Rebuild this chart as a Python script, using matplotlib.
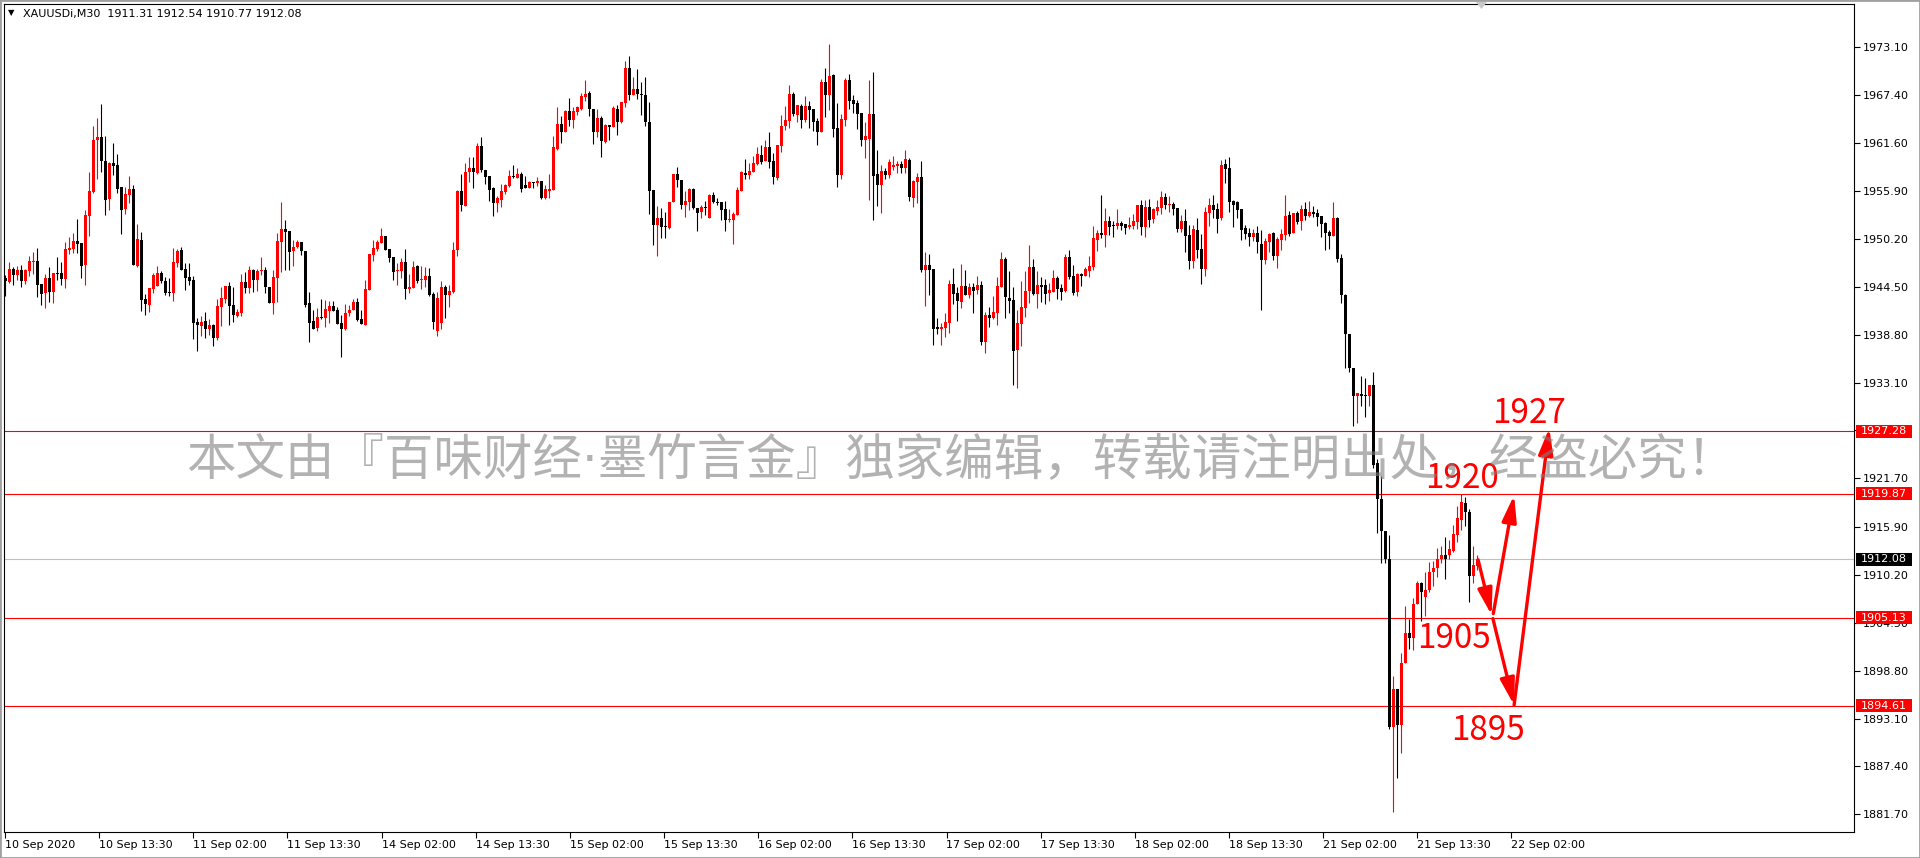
import numpy as np
import matplotlib
matplotlib.use("Agg")
import matplotlib.pyplot as plt
from matplotlib.patches import Rectangle, FancyArrowPatch, Polygon

# ---------------- data (XAUUSDi, M30) ----------------
opens = [
1945.60,1945.08,1946.67,1945.96,1946.51,1945.20,1946.39,1947.46,1947.58,1944.84,
1943.73,1945.56,1943.93,1946.15,1946.15,1945.44,1948.89,1949.01,1949.97,1949.73,
1947.15,1952.98,1955.80,1961.99,1962.35,1959.49,1955.01,1959.26,1959.02,1956.40,
1953.82,1955.48,1956.16,1947.03,1950.08,1943.06,1942.38,1944.25,1944.65,1946.15,
1945.20,1943.89,1943.81,1947.39,1948.89,1946.63,1945.68,1945.32,1940.28,1939.88,
1940.44,1939.52,1939.96,1938.45,1942.15,1943.10,1944.57,1942.34,1941.07,1941.43,
1945.08,1944.41,1946.51,1945.32,1946.39,1946.51,1944.45,1942.62,1945.60,1949.89,
1951.39,1951.20,1948.74,1949.21,1949.85,1948.74,1942.58,1940.44,1939.60,1940.91,
1940.80,1941.67,1942.22,1941.75,1940.20,1939.52,1941.35,1941.75,1942.74,1940.68,
1940.00,1944.17,1948.34,1949.05,1949.73,1950.56,1949.01,1948.06,
1946.35,1946.43,1947.46,1944.29,1944.41,1946.99,1945.36,1945.32,1945.80,1943.65,
1939.30,1940.20,1944.49,1943.53,1943.89,1948.89,1955.92,1954.13,1958.18,1958.66,
1958.06,1961.28,1958.42,1957.70,1956.27,1954.49,1954.85,1955.80,1956.51,1957.70,
1957.47,1957.94,1956.63,1956.27,1956.99,1956.87,1957.11,1955.09,1955.92,1956.04,
1960.92,1963.90,1962.98,1965.44,1964.37,1965.33,1965.68,1967.11,1967.59,1965.68,
1962.94,1964.61,1961.75,1963.78,1963.58,1965.68,1964.13,1966.40,1970.57,1967.35,
1968.06,1967.47,1967.35,1964.13,1956.04,1951.87,1952.70,1951.75,1951.47,1954.61,
1957.94,1957.23,1954.25,1954.61,1956.15,1953.89,1953.42,
1954.01,1952.74,1955.48,1954.61,1954.61,1953.77,1952.46,1952.46,1953.06,1955.91,
1958.02,1957.82,1958.17,1959.13,1960.20,1959.49,1961.15,1959.49,1957.46,1961.27,
1963.66,1964.25,1967.47,1964.97,1966.04,1964.37,1966.04,1965.68,1964.25,1962.94,
1968.90,1967.35,1969.73,1963.42,1957.82,1964.37,1969.13,1966.75,1966.40,1965.21,
1961.99,1962.11,1965.09,1957.94,1956.63,1958.30,1957.82,1958.77,1958.89,1959.13,
1958.66,1959.61,1955.08,1956.99,1957.58,1946.51,1947.10,1946.63,1939.72,1939.48,
1939.60,1940.19,1944.84,1943.77,1942.70,1944.60,1943.53,1944.48,1944.13,1944.72,
1937.93,1941.15,1940.79,1941.39,1944.48,
1947.82,1943.17,1942.94,1937.02,1940.12,1942.02,1944.01,1946.86,1943.65,1944.72,
1944.72,1943.77,1943.89,1945.55,1944.36,1944.01,1948.06,1945.79,1943.89,1946.03,
1945.79,1946.39,1946.86,1950.08,1950.91,1950.68,1952.34,1951.87,1951.75,1952.10,
1951.99,1951.63,1951.75,1952.22,1954.25,1951.63,1954.01,1952.58,1953.53,1953.89,
1955.20,1954.25,1954.37,1953.89,1951.39,1952.34,1950.68,1947.58,1951.27,1949.01,
1946.63,1953.30,1954.25,1953.77,1952.70,1959.13,1958.66,1954.72,1954.61,1953.77,
1951.51,1950.91,1950.44,1950.91,1949.60,1947.70,1949.84,1950.91,1948.17,1950.08,
1950.68,1953.06,1950.91,1953.30,1952.34,1953.77,1952.94,1953.41,1953.30,1952.94,
1952.10,1951.03,1950.56,
1952.70,1947.92,1943.50,1938.88,1934.80,1931.50,1931.69,1931.54,1931.50,1932.81,
1923.57,1919.25,1915.46,1912.05,1892.13,1896.65,1892.37,1899.76,1903.31,1902.72,
1906.71,1909.24,1907.58,1908.41,1910.50,1911.08,1912.05,1912.63,1912.63,1913.04,
1915.00,1916.77,1918.75,1917.70,1910.11,1911.31]

highs = [
1945.92,1947.46,1946.83,1946.99,1947.11,1946.67,1948.18,1948.66,1949.13,1944.84,
1946.04,1946.87,1946.15,1948.06,1947.50,1949.85,1950.40,1950.88,1952.59,1949.73,
1953.66,1958.18,1963.66,1964.61,1966.28,1962.47,1959.41,1961.64,1960.33,1956.40,
1956.40,1957.71,1956.64,1951.99,1951.04,1943.61,1944.37,1946.19,1946.99,1946.39,
1945.72,1945.56,1949.17,1948.97,1949.29,1947.39,1947.35,1945.84,1940.80,1941.07,
1941.51,1940.68,1940.04,1943.10,1944.53,1944.65,1945.04,1944.53,1941.91,1946.08,
1946.27,1947.03,1946.67,1946.59,1948.06,1946.87,1944.45,1946.51,1950.92,1954.61,
1952.47,1951.20,1950.08,1950.08,1949.85,1948.74,1943.89,1941.75,1941.99,1943.06,
1942.94,1942.82,1942.82,1942.11,1941.15,1942.46,1942.34,1943.06,1943.18,1941.75,
1945.32,1948.42,1950.08,1950.08,1951.51,1950.56,1949.01,1948.06,
1947.30,1947.94,1949.01,1946.03,1947.58,1947.11,1946.99,1946.83,1946.71,1943.90,
1943.89,1945.20,1944.72,1944.72,1949.84,1956.08,1957.94,1959.25,1959.97,1959.97,
1961.63,1962.35,1958.42,1957.70,1956.39,1955.32,1956.75,1956.75,1958.42,1959.01,
1958.66,1958.18,1957.70,1957.11,1956.99,1957.58,1957.11,1956.63,1957.94,1962.47,
1965.92,1964.85,1965.56,1966.99,1965.92,1966.04,1967.59,1969.14,1967.83,1965.68,
1965.68,1964.85,1963.90,1963.78,1966.04,1966.16,1966.52,1971.40,1971.99,1969.49,
1970.45,1968.90,1969.49,1966.52,1956.04,1954.13,1953.89,1953.38,1954.61,1957.94,
1958.78,1957.23,1955.92,1956.27,1956.27,1953.89,1954.25,
1954.72,1955.60,1955.80,1955.08,1954.61,1954.72,1953.77,1953.42,1956.39,1958.30,
1959.73,1959.25,1960.08,1961.15,1961.39,1961.99,1962.94,1960.44,1961.39,1964.97,
1966.04,1968.54,1967.71,1966.16,1966.28,1967.23,1966.63,1965.68,1964.61,1969.25,
1970.56,1973.42,1969.85,1966.40,1965.09,1969.37,1969.85,1967.35,1966.75,1965.21,
1964.13,1969.13,1970.09,1960.80,1959.01,1958.66,1959.73,1960.08,1959.49,1959.49,
1960.80,1959.85,1957.22,1958.06,1959.49,1948.65,1948.41,1946.63,1940.79,1940.19,
1941.39,1945.32,1946.75,1944.48,1947.22,1946.51,1944.96,1944.96,1945.79,1945.20,
1941.51,1942.10,1943.41,1945.67,1948.65,
1948.06,1946.39,1944.48,1941.74,1945.20,1946.39,1949.49,1947.82,1946.39,1945.67,
1945.44,1944.96,1946.51,1945.79,1944.84,1948.41,1948.89,1947.10,1946.15,1946.15,
1946.86,1948.17,1951.75,1951.27,1955.44,1953.89,1952.94,1952.34,1953.77,1952.34,
1951.99,1952.82,1953.18,1954.25,1954.84,1954.84,1954.96,1953.89,1954.84,1955.91,
1955.67,1955.32,1954.60,1953.89,1953.06,1953.77,1951.87,1951.87,1952.70,1950.80,
1954.01,1955.08,1955.44,1954.49,1959.61,1959.73,1959.97,1954.84,1954.72,1953.77,
1951.87,1951.51,1951.39,1951.75,1951.27,1950.32,1950.91,1951.03,1950.44,1951.39,
1955.44,1953.53,1953.30,1953.53,1954.25,1954.61,1954.72,1954.13,1953.77,1952.94,
1952.22,1951.27,1954.61,
1952.82,1948.41,1943.65,1938.88,1934.80,1931.84,1933.93,1933.59,1932.81,1934.36,
1923.96,1922.02,1915.46,1914.97,1898.11,1896.65,1900.88,1906.47,1904.91,1907.44,
1909.53,1909.38,1910.60,1911.71,1911.91,1913.38,1913.62,1914.73,1914.34,1916.19,
1918.37,1919.83,1919.50,1918.00,1913.66,1912.54]

lows = [
1943.41,1944.92,1944.77,1945.32,1944.53,1944.84,1945.84,1946.04,1943.34,1942.34,
1942.03,1942.70,1942.62,1945.32,1944.77,1944.37,1948.42,1948.58,1948.54,1945.60,
1944.77,1950.60,1955.64,1957.39,1958.22,1953.10,1953.70,1957.87,1955.72,1950.84,
1953.22,1954.53,1947.15,1946.91,1941.67,1941.19,1941.55,1943.73,1944.65,1944.96,
1943.53,1943.41,1942.86,1946.91,1946.55,1944.17,1944.73,1938.33,1936.90,1938.61,
1938.45,1938.77,1937.50,1938.14,1939.88,1942.62,1940.00,1940.36,1940.95,1941.07,
1943.81,1943.81,1943.93,1943.97,1945.92,1943.81,1942.62,1941.31,1942.70,1946.31,
1946.55,1946.55,1946.99,1949.17,1948.34,1942.07,1937.98,1939.52,1939.29,1940.72,
1939.68,1940.16,1941.67,1940.04,1936.19,1939.41,1941.07,1941.75,1940.48,1940.04,
1940.00,1944.17,1947.62,1948.81,1949.73,1948.93,1947.42,1945.32,
1944.68,1945.56,1943.10,1943.77,1944.41,1945.00,1944.29,1944.53,1943.45,1939.50,
1938.60,1939.50,1940.80,1942.14,1943.77,1948.22,1953.53,1954.13,1956.99,1956.27,
1957.94,1958.18,1956.75,1954.73,1952.94,1953.42,1954.01,1955.56,1956.39,1957.47,
1957.47,1955.80,1956.27,1956.27,1956.27,1956.51,1954.97,1954.97,1955.09,1956.04,
1960.80,1961.63,1962.98,1963.66,1963.42,1964.97,1965.56,1966.64,1964.85,1961.51,
1962.35,1959.97,1961.63,1961.99,1963.54,1962.59,1964.01,1965.92,1966.75,1967.35,
1966.87,1964.97,1963.66,1953.18,1949.49,1948.18,1950.32,1950.32,1951.35,1954.61,
1956.39,1953.77,1952.82,1953.66,1953.77,1951.15,1952.70,
1953.06,1952.74,1954.49,1954.25,1952.46,1951.15,1952.22,1949.64,1953.06,1955.91,
1957.34,1957.34,1958.17,1959.01,1959.13,1959.49,1958.66,1956.75,1957.22,1960.56,
1963.18,1963.42,1964.85,1964.13,1963.42,1964.13,1963.42,1963.06,1961.39,1962.94,
1964.73,1965.56,1962.35,1956.39,1957.34,1963.66,1965.68,1965.21,1963.30,1961.27,
1959.85,1954.84,1952.46,1954.13,1953.30,1957.34,1957.46,1958.42,1958.06,1958.06,
1958.06,1954.72,1954.01,1954.49,1946.27,1942.22,1943.53,1937.58,1938.89,1937.58,
1938.53,1939.01,1942.46,1940.43,1941.98,1943.53,1943.17,1941.39,1943.65,1937.58,
1936.62,1939.72,1940.67,1939.96,1944.48,
1940.83,1941.39,1932.81,1932.50,1937.50,1940.91,1942.58,1943.53,1941.98,1942.70,
1942.46,1942.82,1943.89,1943.05,1942.94,1943.89,1945.44,1943.53,1943.41,1944.60,
1945.79,1945.67,1946.51,1948.77,1950.32,1949.25,1950.68,1950.44,1951.39,1951.27,
1950.80,1951.39,1951.39,1951.39,1950.68,1950.44,1951.63,1952.10,1953.06,1953.18,
1953.77,1953.41,1953.06,1951.03,1951.03,1948.65,1946.63,1946.74,1947.94,1944.84,
1945.79,1951.75,1952.70,1950.91,1952.46,1956.87,1953.41,1951.63,1952.70,1950.08,
1950.20,1949.37,1949.96,1948.53,1941.74,1947.22,1948.65,1947.70,1946.74,1948.89,
1950.08,1950.56,1950.91,1951.99,1951.27,1952.46,1952.82,1952.82,1951.75,1950.44,
1948.89,1949.01,1950.56,
1947.46,1942.53,1934.80,1934.31,1927.95,1928.24,1930.28,1928.97,1930.28,1922.99,
1915.21,1911.57,1911.57,1891.88,1881.92,1886.05,1888.97,1899.66,1901.36,1901.27,
1906.71,1904.77,1905.25,1908.17,1908.90,1910.01,1911.57,1909.76,1912.05,1912.88,
1914.15,1915.60,1916.00,1906.95,1909.28,1910.77]

closes = [
1945.20,1946.63,1945.92,1946.47,1945.20,1946.55,1947.58,1947.58,1944.73,1943.69,
1945.56,1943.93,1946.15,1946.04,1945.44,1949.01,1949.13,1949.97,1949.65,1947.03,
1953.06,1955.92,1961.99,1962.35,1959.53,1954.89,1959.26,1958.94,1956.20,1953.70,
1955.56,1956.16,1947.15,1950.20,1942.98,1942.50,1944.37,1945.92,1946.15,1945.20,
1943.81,1943.81,1947.46,1948.81,1946.55,1945.60,1945.24,1940.24,1940.00,1940.36,
1939.52,1939.96,1938.45,1942.22,1943.18,1944.65,1942.26,1941.11,1941.51,1945.08,
1944.41,1946.51,1945.32,1946.43,1946.51,1944.45,1942.62,1945.68,1949.97,1951.39,
1951.08,1948.66,1949.29,1949.85,1948.74,1942.34,1940.24,1939.52,1940.87,1940.80,
1941.87,1942.22,1941.67,1940.12,1939.52,1941.39,1941.79,1942.74,1940.60,1940.04,
1944.25,1948.42,1949.13,1949.85,1950.56,1948.93,1947.98,1946.31,
1946.51,1947.46,1944.29,1944.49,1946.87,1945.24,1945.48,1945.80,1943.57,1940.30,
1943.14,1944.49,1943.53,1944.01,1948.89,1955.96,1954.25,1958.18,1958.66,1958.18,
1961.28,1958.42,1957.62,1956.04,1954.49,1955.09,1955.92,1956.63,1957.70,1957.58,
1957.94,1956.15,1956.27,1956.99,1956.91,1957.11,1955.09,1956.15,1956.15,1961.16,
1963.90,1962.98,1965.44,1964.37,1965.44,1965.92,1967.23,1967.47,1965.68,1962.98,
1964.61,1961.91,1963.78,1963.58,1965.80,1964.13,1966.52,1970.57,1967.35,1968.06,
1967.47,1967.35,1964.13,1955.92,1951.87,1952.70,1951.63,1951.59,1954.61,1957.94,
1957.23,1954.25,1954.73,1956.15,1953.89,1953.30,1954.01,
1953.93,1955.48,1954.61,1954.49,1953.65,1952.46,1952.58,1953.22,1956.03,1958.17,
1957.86,1958.30,1959.25,1960.32,1959.37,1961.15,1959.37,1957.58,1961.39,1963.66,
1964.37,1967.47,1965.09,1966.16,1964.37,1966.04,1965.56,1964.13,1962.94,1968.90,
1967.35,1969.61,1963.30,1957.82,1964.49,1969.13,1966.63,1966.28,1965.09,1961.99,
1962.46,1965.09,1957.70,1956.63,1958.30,1957.82,1959.37,1959.01,1959.13,1958.66,
1959.73,1955.20,1957.10,1957.58,1946.51,1947.10,1946.51,1939.48,1939.48,1939.72,
1940.31,1944.84,1943.65,1942.82,1944.60,1943.53,1944.48,1944.01,1944.72,1937.93,
1941.15,1940.79,1941.51,1944.60,1947.82,
1943.33,1942.86,1936.90,1940.20,1942.10,1944.01,1946.86,1943.65,1944.72,1944.48,
1943.65,1944.13,1945.55,1944.24,1943.89,1948.06,1945.67,1943.77,1946.03,1945.79,
1946.63,1946.98,1950.32,1950.91,1950.68,1952.34,1951.63,1951.75,1952.10,1951.75,
1951.51,1951.87,1952.34,1954.25,1951.63,1954.01,1952.46,1953.77,1954.01,1955.20,
1954.25,1954.37,1953.77,1951.39,1952.34,1950.56,1947.58,1951.39,1948.89,1946.63,
1953.41,1954.25,1953.65,1952.58,1959.01,1958.54,1954.61,1954.25,1953.65,1951.27,
1950.80,1950.44,1950.91,1949.84,1947.70,1949.96,1950.80,1948.17,1950.20,1950.80,
1952.94,1950.80,1953.30,1952.22,1953.77,1952.94,1953.41,1953.18,1952.82,1951.99,
1950.91,1950.56,1952.70,
1947.82,1943.50,1938.88,1934.80,1931.50,1931.84,1931.50,1931.50,1932.81,1923.23,
1919.25,1915.46,1912.05,1892.13,1896.65,1892.37,1899.66,1903.31,1902.72,1906.71,
1909.24,1908.17,1908.41,1910.60,1911.08,1912.05,1912.63,1912.05,1913.28,1915.07,
1916.92,1918.86,1917.70,1910.11,1911.33,1912.08]

time_labels = ["10 Sep 2020", "10 Sep 13:30", "11 Sep 02:00", "11 Sep 13:30",
               "14 Sep 02:00", "14 Sep 13:30", "15 Sep 02:00", "15 Sep 13:30",
               "16 Sep 02:00", "16 Sep 13:30", "17 Sep 02:00", "17 Sep 13:30",
               "18 Sep 02:00", "18 Sep 13:30", "21 Sep 02:00", "21 Sep 13:30",
               "22 Sep 02:00"]
price_ticks = [1973.10, 1967.40, 1961.60, 1955.90, 1950.20, 1944.50, 1938.80,
               1933.10, 1927.40, 1921.70, 1915.90, 1910.20, 1904.50, 1898.80,
               1893.10, 1887.40, 1881.70]
level_prices = [1927.28, 1919.87, 1905.13, 1894.61]
last_price = 1912.08
header_text = "XAUUSDi,M30  1911.31 1912.54 1910.77 1912.08"
watermark_text = "本文由『百味财经·墨竹言金』独家编辑，转载请注明出处，经盗必究！"
target_texts = ["1927", "1920", "1905", "1895"]
target_bars = [380.9, 364.3, 362.2, 370.6]
target_prices = [1928.3, 1920.55, 1901.5, 1890.54]
arrow_from = [(368.2, 1912.0), (372.0, 1905.6), (371.9, 1905.0), (377.2, 1894.7)]
arrow_to = [(371.6, 1905.4), (377.2, 1919.7), (377.2, 1894.7), (386.0, 1927.7)]

# ---------------- figure ----------------
W, H = 1920, 858
fig = plt.figure(figsize=(W / 100, H / 100), dpi=100, facecolor="white")
ax_left, ax_right, ax_top, ax_bottom = 4, 1854, 4, 832
ax = fig.add_axes([ax_left / W, (H - ax_bottom) / H,
                   (ax_right - ax_left) / W, (ax_bottom - ax_top) / H])
ax.set_facecolor("white")

ymin, ymax = 1879.59, 1978.18
ax.set_ylim(ymin, ymax)
ax.set_xlim(-0.325, 462.175)
px_per_price = (ax_bottom - ax_top) / (ymax - ymin)
px_per_bar = (ax_right - ax_left) / (462.175 + 0.325)

o = np.array(opens); h = np.array(highs); l = np.array(lows); c = np.array(closes)
assert len(o) == len(h) == len(l) == len(c)
x = np.arange(len(o))
colors = np.where(c > o, "#ff0000", "#000000")

# reference lines
ax.axhline(last_price, color="#c0c0c0", lw=0.8, zorder=1)
for p in level_prices:
    ax.axhline(p, color="#ff0000", lw=0.8, zorder=2)

# candles
ax.vlines(x, l, h, colors=colors, lw=0.8, zorder=3)
body_low = np.minimum(o, c)
body_h = np.maximum(np.abs(c - o), 1.0 / px_per_price)
ax.bar(x, body_h, bottom=body_low, width=0.75, color=colors, linewidth=0, zorder=4)

# axes styling
for s in ax.spines.values():
    s.set_color("black")
    s.set_linewidth(0.8)
ax.yaxis.tick_right()
ax.set_yticks(price_ticks)
ax.set_yticklabels([f"{v:.2f}" for v in price_ticks])
ax.tick_params(axis="y", direction="out", length=4, width=0.8, pad=2,
               labelsize=8, colors="black", left=False, right=True)
tick_pos = (np.arange(len(time_labels)) * 94.15 - 0.3) / px_per_bar
ax.set_xticks(tick_pos)
ax.set_xticklabels(time_labels, ha="left")
ax.tick_params(axis="x", direction="out", length=4, width=0.8, pad=2,
               labelsize=8, colors="black")

# price boxes at the right edge
ytrans = ax.get_yaxis_transform()
axw = ax_right - ax_left
box_specs = [(p, "#ff0000") for p in level_prices] + [(last_price, "#000000")]
for p, col in box_specs:
    ax.add_patch(Rectangle((1 + 2 / axw, p - 6.5 / px_per_price), 56 / axw,
                           13 / px_per_price, transform=ytrans, facecolor=col,
                           edgecolor="none", clip_on=False, zorder=10))
    ax.text(1 + 6.5 / axw, p, f"{p:.2f}", transform=ytrans, color="white",
            fontsize=8, va="center", ha="left", clip_on=False, zorder=11)

# red targets and arrows
for t, bx, py in zip(target_texts, target_bars, target_prices):
    ax.text(bx, py, t, color="#ff0000", fontsize=24, family=["Noto Sans CJK SC"],
            ha="center", va="baseline", zorder=12)
for a, b in zip(arrow_from, arrow_to):
    ax.add_patch(FancyArrowPatch(a, b, arrowstyle="-|>,head_length=0.8,head_width=0.22",
                                 mutation_scale=20, color="#ff0000", lw=2.4,
                                 shrinkA=0, shrinkB=0, zorder=12))

# header
fig.text(23 / W, 1 - 14 / H, header_text, fontsize=8, va="center", ha="left")
fig.text(8 / W, 1 - 13 / H, "\u25BC", fontsize=6, va="center", ha="left")
fig.patches.append(Polygon([(1476 / W, 1 - 2 / H), (1487 / W, 1 - 2 / H), (1481.5 / W, 1 - 9 / H)],
                           closed=True, transform=fig.transFigure, facecolor="#c8c8c8",
                           edgecolor="none"))

# watermark on top (narrow middle dot from DejaVu, CJK from Noto)
wm = fig.text(186 / W, 1 - 460 / H, watermark_text, fontsize=35,
              family=["DejaVu Sans", "Noto Sans CJK SC"], color=(0.5, 0.5, 0.5),
              alpha=0.6, ha="left", va="center", zorder=20)
renderer = fig.canvas.get_renderer()
wm_width = wm.get_window_extent(renderer).width
wm.set_fontsize(35 * (1550.0 / wm_width))

# window border
fig.patches.append(Rectangle((0, 0), 1, 1, transform=fig.transFigure, fill=False,
                             edgecolor="#a0a0a0", lw=2))

fig.savefig("out.png", dpi=100, facecolor="white")
